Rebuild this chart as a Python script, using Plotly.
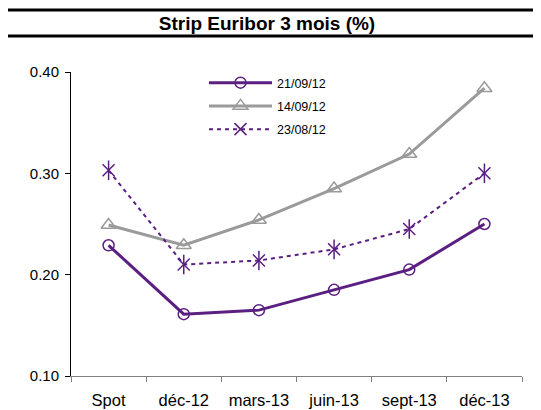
import plotly.graph_objects as go

categories = ["Spot", "déc-12", "mars-13", "juin-13", "sept-13", "déc-13"]
s_210912 = [0.229, 0.161, 0.165, 0.185, 0.205, 0.250]
s_140912 = [0.249, 0.229, 0.254, 0.285, 0.319, 0.384]
s_230812 = [0.303, 0.210, 0.214, 0.225, 0.245, 0.300]
names = ["21/09/12", "14/09/12", "23/08/12"]
y_ticks = [0.10, 0.20, 0.30, 0.40]

PURPLE = "#5B1F82"
GRAY = "#9A9A9A"
FONT = "Liberation Sans, Arial, sans-serif"

fig = go.Figure()
fig.add_trace(go.Scatter(
    x=categories, y=s_210912, name=names[0], mode="lines+markers", legendgroup="a",
    line=dict(color=PURPLE, width=3),
    marker=dict(symbol="circle-open", size=11, color=PURPLE, line=dict(width=1.5, color=PURPLE)),
))
fig.add_trace(go.Scatter(
    x=categories, y=s_140912, name=names[1], mode="lines+markers", legendgroup="b",
    line=dict(color=GRAY, width=3),
    marker=dict(symbol="triangle-up-open", size=13, color=GRAY, line=dict(width=1.5, color=GRAY)),
))
fig.add_trace(go.Scatter(
    x=categories, y=s_230812, name=names[2], mode="lines+markers", legendgroup="c",
    line=dict(color=PURPLE, width=2, dash="4px,4px"),
    marker=dict(symbol="x-thin-open", size=12, color=PURPLE, line=dict(width=1.5, color=PURPLE)),
))
fig.add_trace(go.Scatter(
    x=categories, y=s_230812, name=names[2], mode="markers", legendgroup="c", showlegend=False,
    marker=dict(symbol="line-ns-open", size=14, color=PURPLE, line=dict(width=1.5, color=PURPLE)),
))

# page body has an 8px margin: lay out in reference pixel coordinates minus OFF
OFF = 8
W, H = 541 - OFF, 410 - OFF
L = 71 - OFF
T = 72 - OFF
R = 541 - 522
B = 410 - 376
pw = W - L - R
ph = H - T - B

def px_x(x):
    return (x - OFF - L) / pw

def px_y(y):
    return (H - B - (y - OFF)) / ph

fig.update_layout(
    width=W, height=H,
    margin=dict(l=L, r=R, t=T, b=B),
    paper_bgcolor="white", plot_bgcolor="white",
    font=dict(family=FONT, color="black", size=15),
    title=dict(text="<b>Strip Euribor 3 mois (%)</b>", x=(267 - OFF) / W, xanchor="center",
               y=1 - (23 - OFF) / H, yanchor="middle", yref="container",
               font=dict(family=FONT, size=19, color="black")),
    showlegend=True,
    legend=dict(x=px_x(204), y=px_y(68), xanchor="left", yanchor="top",
                bgcolor="rgba(0,0,0,0)", font=dict(family=FONT, size=12.5, color="black"),
                tracegroupgap=4, traceorder="grouped", itemwidth=63),
    xaxis=dict(
        type="category", categoryorder="array", categoryarray=categories,
        range=[-0.5, len(categories) - 0.5], automargin=False,
        showline=True, linecolor="#808080", linewidth=1,
        ticks="outside", tickson="boundaries", ticklen=5, tickcolor="#808080",
        showgrid=False, zeroline=False, ticklabelstandoff=9,
        tickfont=dict(family=FONT, size=16.5, color="black"),
    ),
    yaxis=dict(
        range=[0.10, 0.40], tickvals=y_ticks, tickformat=".2f", automargin=False,
        showline=True, linecolor="black", linewidth=1,
        ticks="outside", ticklen=5, tickcolor="black",
        showgrid=False, zeroline=False, ticklabelstandoff=3,
        tickfont=dict(family=FONT, size=15, color="black"),
    ),
    shapes=[
        dict(type="line", xref="paper", yref="paper", x0=px_x(7), x1=px_x(545),
             y0=px_y(10), y1=px_y(10), line=dict(color="black", width=3)),
        dict(type="line", xref="paper", yref="paper", x0=px_x(7), x1=px_x(545),
             y0=px_y(36), y1=px_y(36), line=dict(color="black", width=3)),
    ],
)

fig.write_html("out.html")
